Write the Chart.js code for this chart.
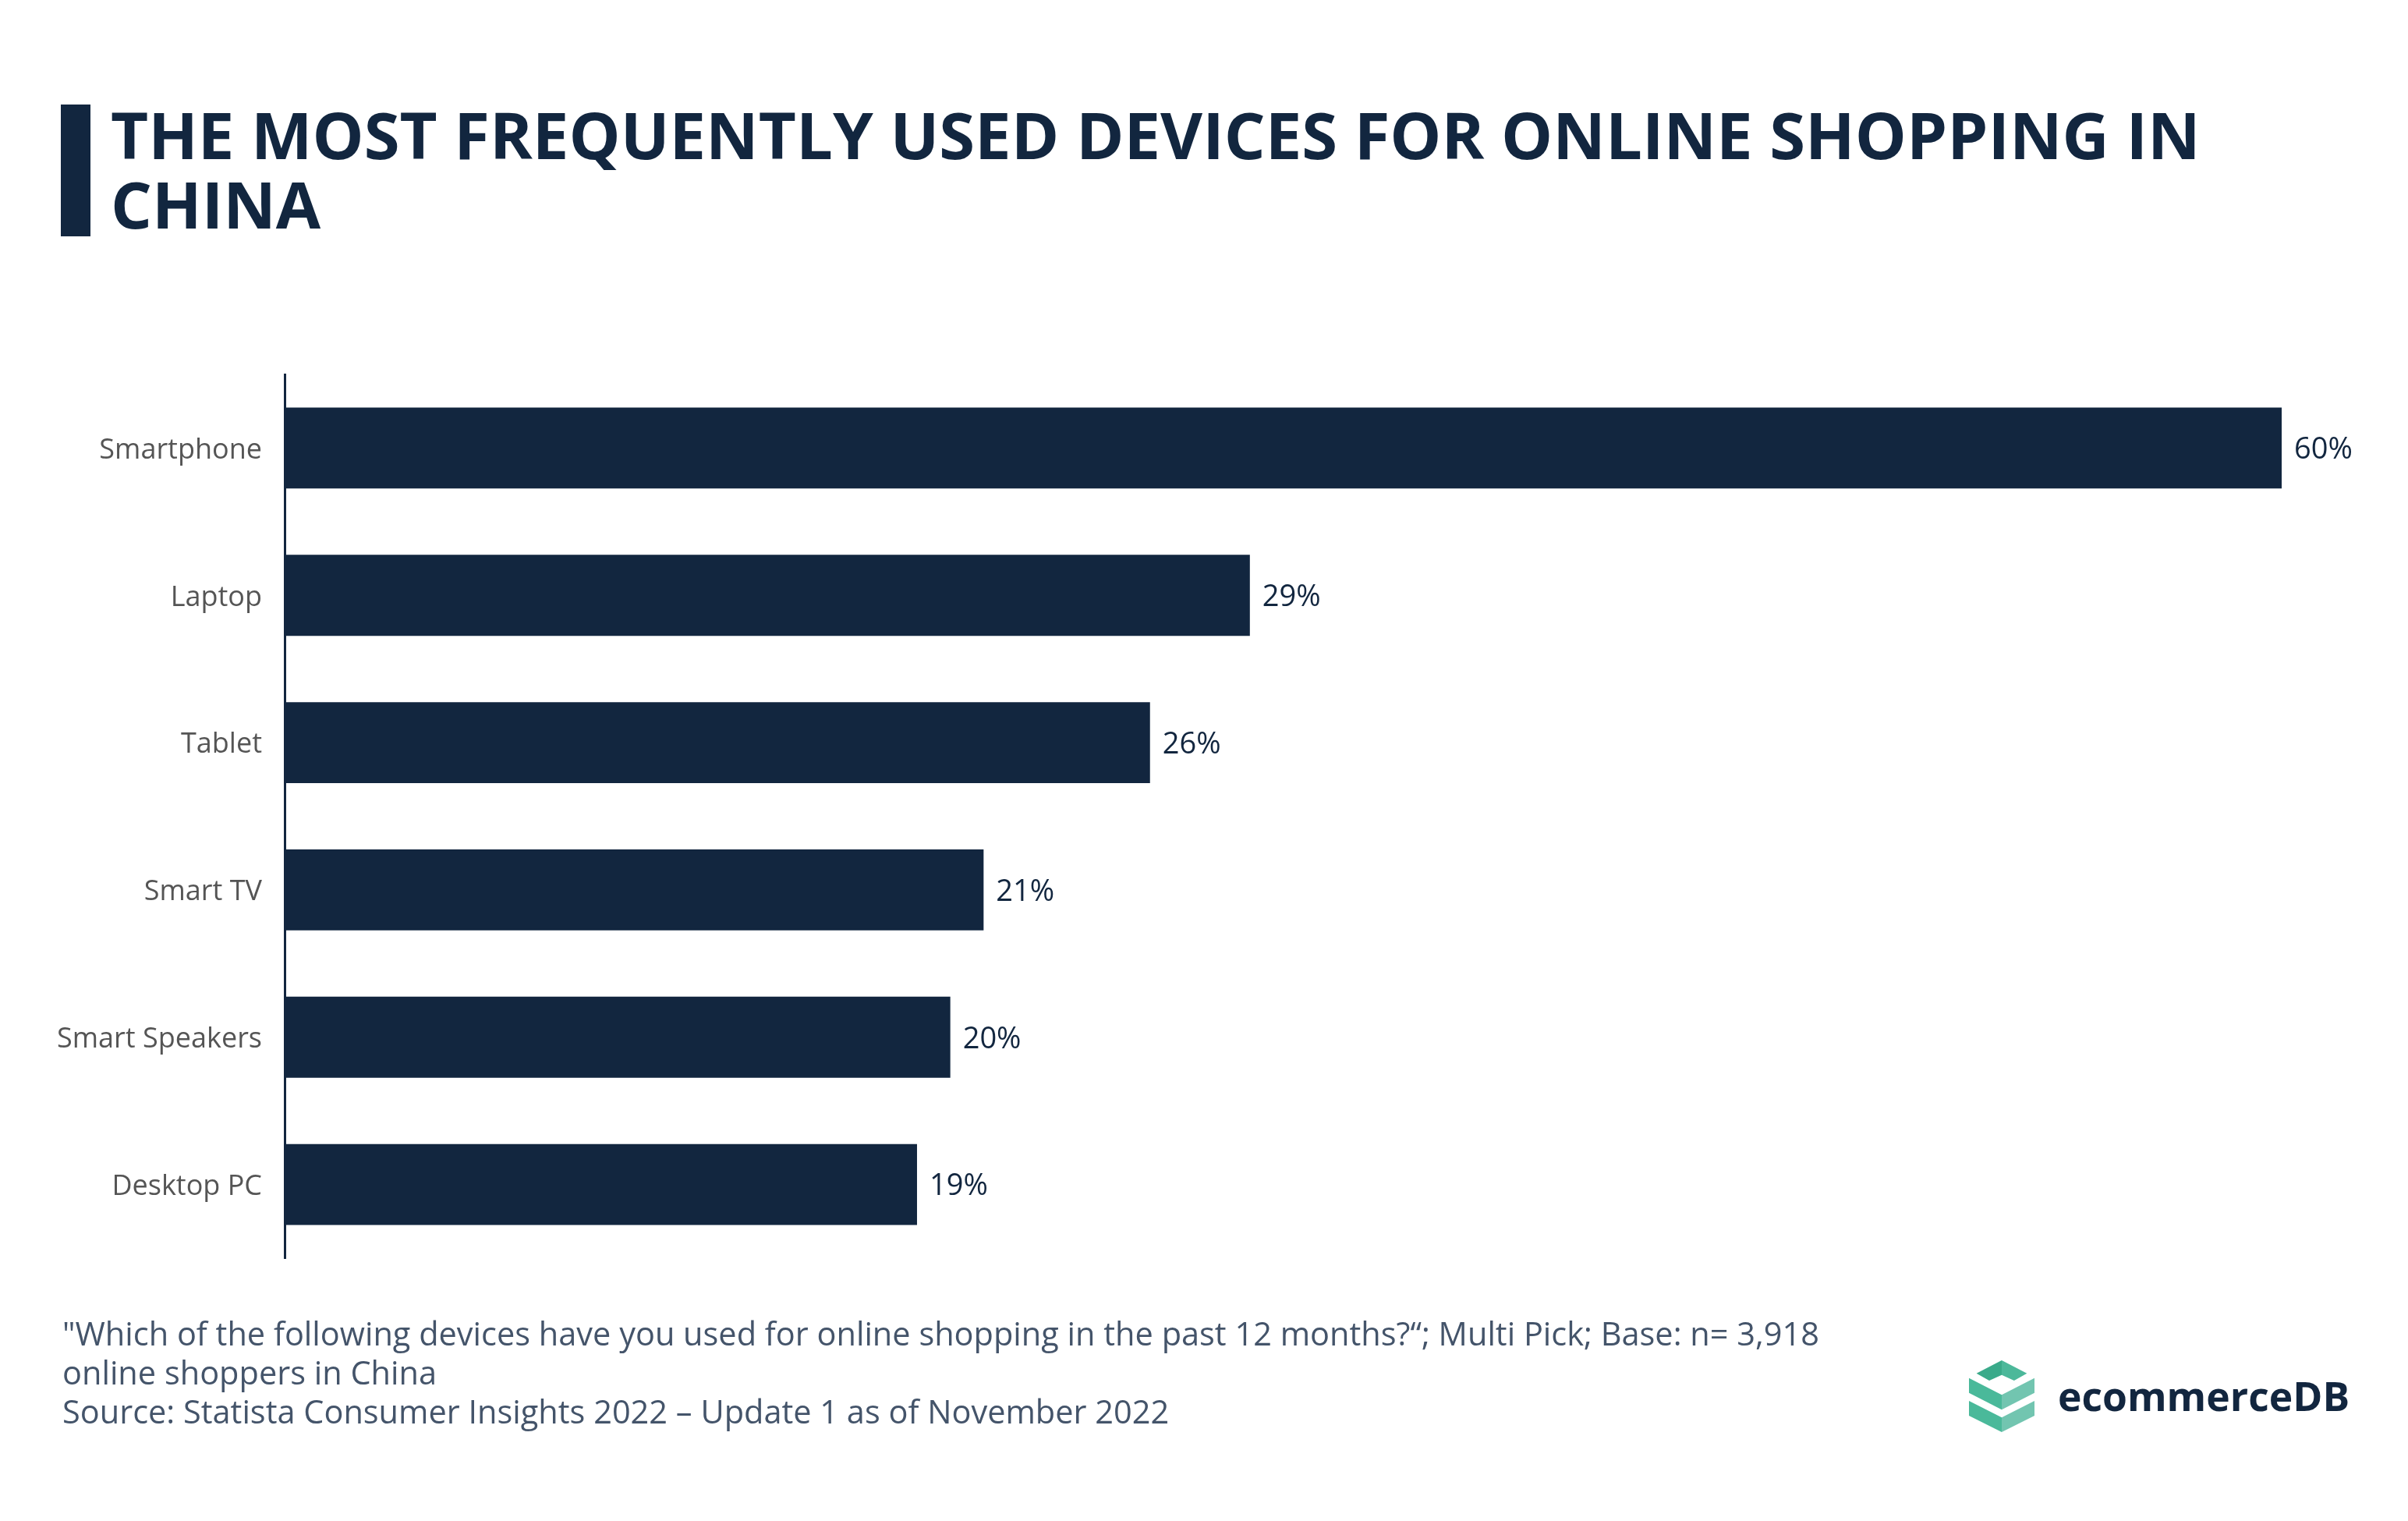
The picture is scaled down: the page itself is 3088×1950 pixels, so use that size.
<!DOCTYPE html>
<html>
<head>
<meta charset="utf-8">
<script src="https://cdn.jsdelivr.net/npm/chart.js@4.4.1/dist/chart.umd.min.js"></script>
<style>
  html, body { margin: 0; padding: 0; background: #fff; }
  body { width: 3088px; height: 1950px; position: relative; overflow: hidden; font-family: 'Open Sans', sans-serif; }
  #titleBar { position: absolute; left: 78px; top: 134px; width: 38px; height: 169px; background: #12263f; }
  #title { position: absolute; left: 142px; top: 127px; width: 2850px; font-weight: 700; font-size: 83.2px; line-height: 89px; color: #12263f; }
  #chartBox { position: absolute; left: 0; top: 0; width: 3088px; height: 1950px; }
  #note { position: absolute; left: 80px; top: 1684px; font-size: 41.5px; line-height: 50px; color: #44546a; }
  #logo { position: absolute; left: 2525px; top: 1744px; }
  #logoText { position: absolute; left: 2639px; top: 1754px; font-weight: 700; font-size: 51.6px; color: #12263f; line-height: 70px; }
</style>
</head>
<body>
<div id="titleBar"></div>
<div id="title">THE MOST FREQUENTLY USED DEVICES FOR ONLINE SHOPPING IN CHINA</div>
<div id="chartBox"><canvas id="devChart" width="3088" height="1950"></canvas></div>
<div id="note">"Which of the following devices have you used for online shopping in the past 12 months?“; Multi Pick; Base: n= 3,918<br>online shoppers in China<br>Source: Statista Consumer Insights 2022 – Update 1 as of November 2022</div>
<svg id="logo" width="84" height="92" viewBox="0 0 84 92">
  <polygon points="9.6,16.7 42,0 42,18.7 26,26" fill="#3aaa8a"/>
  <polygon points="42,0 74.3,16.7 57.9,26 42,18.7" fill="#4cb89a"/>
  <polygon points="0,22.7 42,44.3 42,63.3 0,41.7" fill="#4ab99a"/>
  <polygon points="42,44.3 84,22.7 84,41.7 42,63.3" fill="#72c5b0"/>
  <polygon points="0,52 42,73.3 42,92 0,71" fill="#4ab99a"/>
  <polygon points="42,73.3 84,52 84,71 42,92" fill="#72c5b0"/>
</svg>
<div id="logoText">ecommerceDB</div>
<script>
const devices = ['Smartphone', 'Laptop', 'Tablet', 'Smart TV', 'Smart Speakers', 'Desktop PC'];
const shares = [60, 29, 26, 21, 20, 19];

const navy = '#12263f';

// draws the "60%" style labels at the end of each bar
const valueLabels = {
    id: 'valueLabels',
    afterDatasetsDraw(chart) {
        const ctx = chart.ctx;
        const meta = chart.getDatasetMeta(0);
        ctx.save();
        ctx.font = '38px "Open Sans"';
        ctx.fillStyle = navy;
        ctx.textAlign = 'left';
        ctx.textBaseline = 'middle';
        meta.data.forEach((bar, i) => {
            ctx.fillText(shares[i] + '%', bar.x + 16, bar.y + 3);
        });
        ctx.restore();
    }
};

const ctx = document.getElementById('devChart').getContext('2d');
const myChart = new Chart(ctx, {
    type: 'bar',
    data: {
        labels: devices,
        datasets: [{
            data: shares,
            backgroundColor: navy,
            borderWidth: 0,
            categoryPercentage: 1,
            barPercentage: 0.55
        }]
    },
    options: {
        indexAxis: 'y',
        responsive: false,
        animation: false,
        layout: { padding: { left: 0, right: 162, top: 480, bottom: 337 } },
        plugins: { legend: { display: false }, tooltip: { enabled: false } },
        scales: {
            x: { display: false, min: 0, max: 60 },
            y: {
                afterFit(scale) { scale.width = 365; },
                grid: { display: false, drawTicks: false },
                border: { display: true, color: navy, width: 3 },
                ticks: {
                    color: '#555555',
                    padding: 29,
                    labelOffset: 3,
                    font: { family: 'Open Sans', size: 36 }
                }
            }
        }
    },
    plugins: [valueLabels]
});
</script>
</body>
</html>
